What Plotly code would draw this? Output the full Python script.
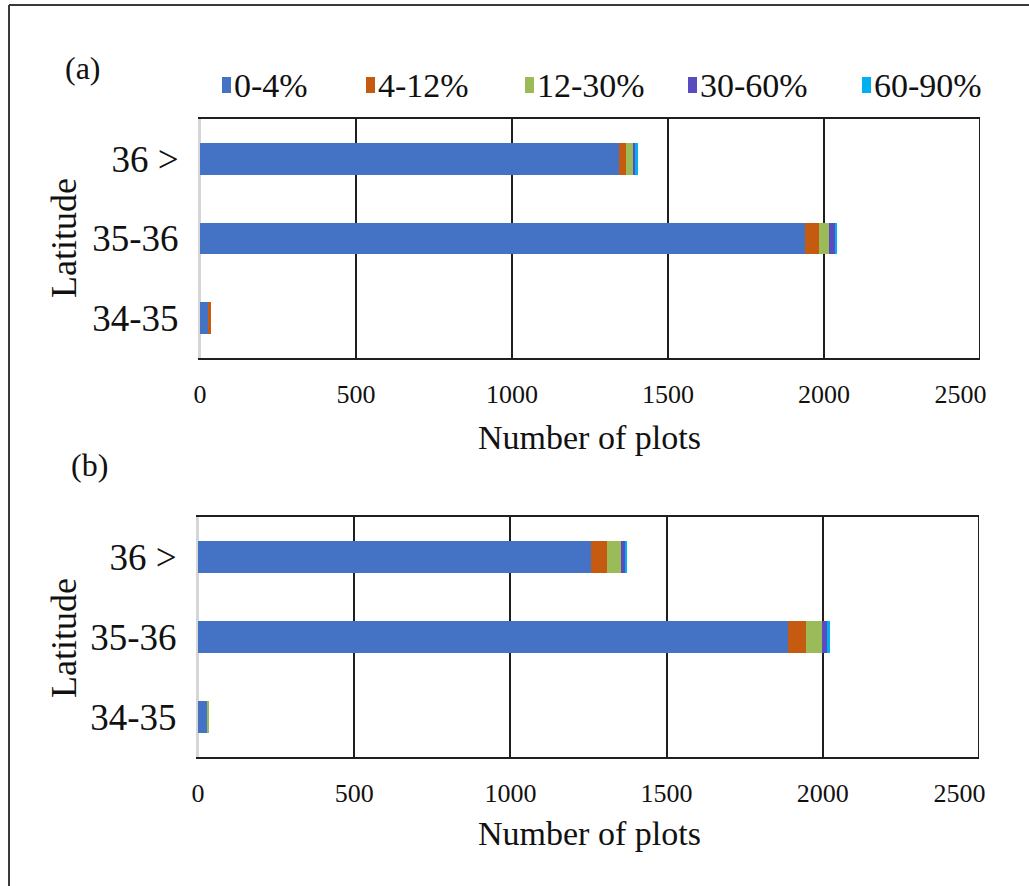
import plotly.graph_objects as go

W, H = 1029, 886

# Latitude bands (bottom to top) and slope classes
categories = ["34-35", "35-36", "36 >"]
slope_classes = ["0-4%", "4-12%", "12-30%", "30-60%", "60-90%"]
class_colors = ["#4472C4", "#C55A11", "#9BBB59", "#5A4BC0", "#00B0F0"]

# Number of plots per slope class, ordered like `categories`
panel_a_0_4 = [27, 1939, 1342]
panel_a_4_12 = [7, 46, 23]
panel_a_12_30 = [0, 31, 26]
panel_a_30_60 = [0, 19, 4]
panel_a_60_90 = [0, 7, 10]

panel_b_0_4 = [28, 1889, 1258]
panel_b_4_12 = [0, 57, 50]
panel_b_12_30 = [7, 52, 46]
panel_b_30_60 = [0, 17, 12]
panel_b_60_90 = [0, 8, 7]

x_tick_values = [0, 500, 1000, 1500, 2000, 2500]
x_tick_labels = ["0", "500", "1000", "1500", "2000", "2500"]

panel_a = [panel_a_0_4, panel_a_4_12, panel_a_12_30, panel_a_30_60, panel_a_60_90]
panel_b = [panel_b_0_4, panel_b_4_12, panel_b_12_30, panel_b_30_60, panel_b_60_90]

FONT = "Liberation Serif"
TEXT = "#111111"
DARK = "#1f1f1f"

# the last tick label is nudged left so it stays inside the chart frame
tick_text = x_tick_labels[:-1] + [x_tick_labels[-1] + "\u00a0" * 6]


def px(x):
    return x / W


def py(y):
    return 1 - y / H


fig = go.Figure()

for series, xa, ya in ((panel_a, "x", "y"), (panel_b, "x2", "y2")):
    for name, color, vals in zip(slope_classes, class_colors, series):
        fig.add_trace(go.Bar(
            x=vals, y=categories, orientation="h", name=name,
            marker=dict(color=color, line=dict(width=0)),
            xaxis=xa, yaxis=ya, showlegend=False,
        ))

common_x = dict(
    range=[0, 2500], tickvals=x_tick_values, ticktext=tick_text,
    showgrid=True, gridcolor=DARK, gridwidth=1.6,
    zeroline=True, zerolinecolor="#d6d6d6", zerolinewidth=2,
    showline=True, mirror=True, linecolor=DARK, linewidth=2,
    ticks="", ticklabelstandoff=12,
    tickfont=dict(family=FONT, size=26, color=TEXT),
    fixedrange=True,
)
common_y = dict(
    categoryorder="array", categoryarray=categories,
    showgrid=False, zeroline=False,
    showline=True, linecolor="#d6d6d6", linewidth=2,
    ticks="", ticklabelstandoff=12,
    tickfont=dict(family=FONT, size=37, color=TEXT),
    fixedrange=True,
)

fig.update_layout(
    width=W, height=H,
    margin=dict(l=0, r=0, t=0, b=0),
    paper_bgcolor="white", plot_bgcolor="white",
    barmode="stack", bargap=0.6,
    showlegend=False,
    xaxis=dict(common_x, domain=[px(200), px(980)], anchor="y", automargin=False),
    yaxis=dict(common_y, domain=[py(358), py(119)], anchor="x", automargin=False),
    xaxis2=dict(common_x, domain=[px(198), px(979)], anchor="y2", automargin=False),
    yaxis2=dict(common_y, domain=[py(757), py(517)], anchor="x2", automargin=False),
)

shapes = []
annotations = []

# right-hand border of each plot area
for xr, yr in (("x", "y"), ("x2", "y2")):
    shapes.append(dict(type="line", xref=xr, yref=f"{yr} domain",
                       x0=2500, x1=2500, y0=0, y1=1,
                       line=dict(color=DARK, width=2)))

# outer frame (left and top edges)
shapes.append(dict(type="line", xref="paper", yref="paper",
                   x0=px(9), x1=px(9), y0=py(5), y1=py(900),
                   line=dict(color="#3a3a3a", width=2)))
shapes.append(dict(type="line", xref="paper", yref="paper",
                   x0=px(9), x1=px(1040), y0=py(5), y1=py(5),
                   line=dict(color="#3a3a3a", width=2)))

# legend row
legend_x = [222, 366, 525, 688, 862]
legend_y = 85
for lx, name, color in zip(legend_x, slope_classes, class_colors):
    shapes.append(dict(type="rect", xref="paper", yref="paper",
                       x0=px(lx), x1=px(lx + 9), y0=py(legend_y + 8), y1=py(legend_y - 8),
                       fillcolor=color, line=dict(width=0)))
    annotations.append(dict(text=name, xref="paper", yref="paper",
                            x=px(lx + 10), y=py(legend_y), xanchor="left", yanchor="middle",
                            showarrow=False, font=dict(family=FONT, size=34, color=TEXT)))

# panel tags
for tag, x, y in (("(a)", 83, 68), ("(b)", 89, 465)):
    annotations.append(dict(text=tag, xref="paper", yref="paper", x=px(x), y=py(y),
                            xanchor="center", yanchor="middle", showarrow=False,
                            font=dict(family=FONT, size=32, color=TEXT)))

# axis titles
for y in (437, 833):
    annotations.append(dict(text="Number of plots", xref="paper", yref="paper",
                            x=px(589), y=py(y), xanchor="center", yanchor="middle",
                            showarrow=False, font=dict(family=FONT, size=34, color=TEXT)))
for y in (238, 638):
    annotations.append(dict(text="Latitude", xref="paper", yref="paper",
                            x=px(64), y=py(y), xanchor="center", yanchor="middle",
                            textangle=-90, showarrow=False,
                            font=dict(family=FONT, size=36, color=TEXT)))

fig.update_layout(shapes=shapes, annotations=annotations)

# page without body margin so the figure fills the window exactly
fig.write_html(
    "out.html",
    post_script="document.body.style.margin='0';document.body.style.overflow='hidden';",
)
